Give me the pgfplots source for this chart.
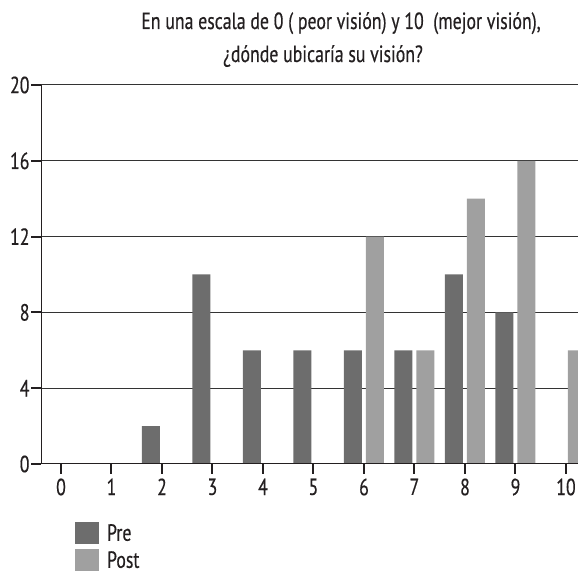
\documentclass[border=0pt]{standalone}
\usepackage{fontspec}
\setmainfont{PT Sans}[FakeStretch=0.76, FakeBold=0.4]
\usepackage{pgfplots}
\pgfplotsset{compat=1.18}
\definecolor{txt}{HTML}{231F20}
\definecolor{pre}{HTML}{6D6D6D}
\definecolor{post}{HTML}{A0A0A0}
\begin{document}
\begin{tikzpicture}[x=1bp,y=1bp]
\path[use as bounding box] (0,0) rectangle (578,577);
\begin{axis}[
  at={(41bp,113bp)}, anchor=south west,
  scale only axis, width=537bp, height=379bp,
  xmin=-0.396, xmax=10.238, ymin=0, ymax=20,
  xtick={0,...,10}, ytick={0,4,8,12,16,20},
  xtick pos=bottom, ytick pos=left, tick align=outside,
  major tick length=10bp,
  tick style={line width=2bp, color=txt},
  axis line style={draw=none},
  ymajorgrids, major grid style={line width=1bp, color=black!80},
  ticklabel style={font=\fontsize{23.5}{23.5}\selectfont, text=txt},
  /pgf/number format/assume math mode=true,
  xticklabel style={yshift=-1bp},
  yticklabel style={xshift=2bp},
  ybar, bar width=18bp,
  legend style={at={(axis description cs:0.063,-0.153)}, anchor=north west,
    draw=none, fill=none, inner sep=0pt, row sep=5bp,
    font=\fontsize{23.5}{23.5}\selectfont, text=txt,
    /tikz/every odd column/.style={column sep=6bp}},
  legend cell align=left,
  legend image code/.code={\path[#1, draw=none] (0bp,-11bp) rectangle (24bp,11bp);},
]
\addplot[fill=pre, draw=none, bar shift=-11bp] coordinates {
  (0,0) (1,0) (2,2) (3,10) (4,6) (5,6) (6,6) (7,6) (8,10) (9,8) (10,0)};
\addplot[fill=post, draw=none, bar shift=11bp] coordinates {
  (0,0) (1,0) (2,0) (3,0) (4,0) (5,0) (6,12) (7,6) (8,14) (9,16) (10,6)};
\legend{Pre, Post}
\draw[line width=2bp, color=txt] (rel axis cs:0,1) -- (rel axis cs:0,0) -- (rel axis cs:1,0);
\end{axis}
\node[anchor=base, text=txt, font=\fontsize{23.5}{23.5}\selectfont] at (341,548) {En una escala de 0 ( peor visión) y 10~~(mejor visión),};
\node[anchor=base, text=txt, font=\fontsize{23.5}{23.5}\selectfont] at (323,515) {¿dónde ubicaría su visión?};
\end{tikzpicture}
\end{document}
